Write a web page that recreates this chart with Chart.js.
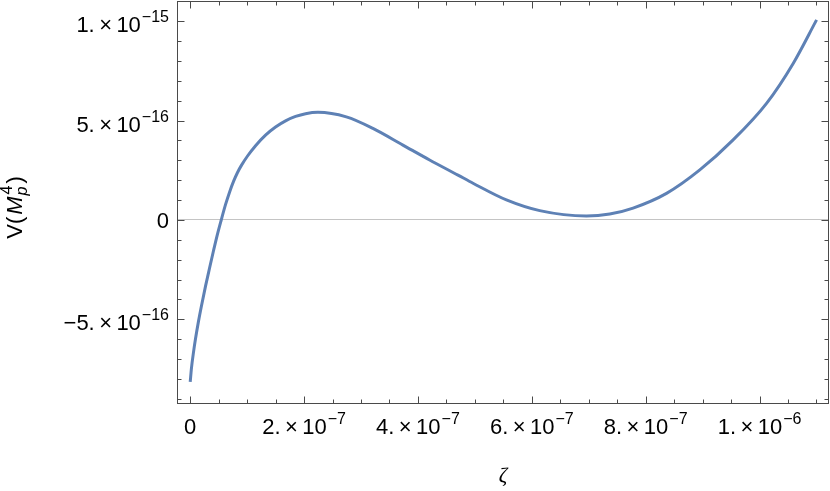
<!DOCTYPE html>
<html>
<head>
<meta charset="utf-8">
<script src="https://cdn.jsdelivr.net/npm/chart.js@4.4.1/dist/chart.umd.min.js"></script>
<style>
  html, body { margin: 0; padding: 0; background: #fff; }
</style>
</head>
<body>
<canvas id="myChart" width="830" height="491"></canvas>
<script>
// values
var zeta = [0, 0.023e-7, 0.058e-7, 0.093e-7, 0.146e-7, 0.199e-7, 0.269e-7, 0.339e-7, 0.409e-7, 0.479e-7,
            0.545e-7, 0.620e-7, 0.691e-7, 0.761e-7, 0.831e-7, 0.902e-7, 1.007e-7, 1.148e-7, 1.323e-7, 1.499e-7,
            1.675e-7, 1.851e-7, 2.026e-7, 2.243e-7, 2.742e-7, 3.209e-7, 3.736e-7, 4.205e-7, 4.703e-7, 4.967e-7,
            5.554e-7, 6.139e-7, 6.960e-7, 7.369e-7, 7.779e-7, 8.366e-7, 8.951e-7, 9.536e-7, 10.123e-7, 10.591e-7,
            11.002e-7];
var potential = [-8.15e-16, -7.43e-16, -6.65e-16, -5.98e-16, -5.09e-16, -4.30e-16, -3.33e-16, -2.43e-16, -1.55e-16, -0.71e-16,
                 0, 0.77e-16, 1.40e-16, 1.94e-16, 2.39e-16, 2.76e-16, 3.22e-16, 3.74e-16, 4.27e-16, 4.68e-16,
                 4.99e-16, 5.21e-16, 5.35e-16, 5.42e-16, 5.19e-16, 4.61e-16, 3.77e-16, 3.02e-16, 2.26e-16, 1.85e-16,
                 1.01e-16, 0.47e-16, 0.20e-16, 0.30e-16, 0.60e-16, 1.34e-16, 2.52e-16, 4.03e-16, 5.87e-16, 7.88e-16,
                 10.07e-16];

var xTicks = [0, 2e-7, 4e-7, 6e-7, 8e-7, 1e-6];
var xTickMant = ['0', '2.', '4.', '6.', '8.', '1.'];
var xTickExp = ['', '\u22127', '\u22127', '\u22127', '\u22127', '\u22126'];
var yTicks = [-5e-16, 0, 5e-16, 1e-15];
var yTickMant = ['\u22125.', '0', '5.', '1.'];
var yTickExp = ['\u221216', '', '\u221216', '\u221215'];

var FONT = '"Liberation Sans", Arial, sans-serif';
var mainFont = '22px ' + FONT;
var supFont = '16px ' + FONT;

function mantText(m) {
    return m === '0' ? '0' : m + '\u2009\u00d7\u200910';
}

function labelWidth(ctx, m, e) {
    ctx.font = mainFont;
    var w = ctx.measureText(mantText(m)).width;
    if (e) {
        ctx.font = supFont;
        w += ctx.measureText(e).width + 1;
    }
    return w;
}

function drawLabel(ctx, m, e, x, base) {
    ctx.textAlign = 'left';
    ctx.textBaseline = 'alphabetic';
    ctx.font = mainFont;
    var t = mantText(m);
    ctx.fillText(t, x, base);
    if (e) {
        var w = ctx.measureText(t).width;
        ctx.font = supFont;
        ctx.fillText(e, x + w + 1, base - 10);
    }
}

var framePlugin = {
    id: 'frame',
    afterDraw: function(chart) {
        var ctx = chart.ctx, a = chart.chartArea;
        var xs = chart.scales.x, ys = chart.scales.y;
        var L = Math.round(a.left) + 0.5, R = Math.round(a.right) - 0.5;
        var T = Math.round(a.top) + 0.5, B = Math.round(a.bottom) + 0.5;
        ctx.save();
        ctx.strokeStyle = '#4a4a4a';
        ctx.lineWidth = 1;
        ctx.strokeRect(L, T, R - L, B - T);

        // inward ticks on all four sides
        ctx.beginPath();
        var v, px, len;
        for (var i = 0; i <= 22; i++) {
            v = i * 5e-8;
            px = Math.round(xs.getPixelForValue(v)) + 0.5;
            len = (i % 4 === 0) ? 7 : 4;
            ctx.moveTo(px, B); ctx.lineTo(px, B - len);
            ctx.moveTo(px, T); ctx.lineTo(px, T + len);
        }
        for (var j = -9; j <= 11; j++) {
            v = j * 1e-16;
            px = Math.round(ys.getPixelForValue(v)) + 0.5;
            len = (j % 5 === 0) ? 7 : 4;
            ctx.moveTo(L, px); ctx.lineTo(L + len, px);
            ctx.moveTo(R, px); ctx.lineTo(R - len, px);
        }
        ctx.stroke();

        ctx.fillStyle = '#000';
        xTicks.forEach(function(val, k) {
            var w = labelWidth(ctx, xTickMant[k], xTickExp[k]);
            var cx = xs.getPixelForValue(val);
            drawLabel(ctx, xTickMant[k], xTickExp[k], cx - w / 2, 434);
        });
        yTicks.forEach(function(val, k) {
            var w = labelWidth(ctx, yTickMant[k], yTickExp[k]);
            var cy = ys.getPixelForValue(val);
            var base = yTickExp[k] ? cy + 11 : cy + 8;
            drawLabel(ctx, yTickMant[k], yTickExp[k], 169 - w, base);
        });

        // axis titles
        ctx.font = 'italic 21px "Liberation Serif", serif';
        ctx.textAlign = 'center';
        ctx.fillText('\u03b6', (a.left + a.right) / 2, 482);

        ctx.translate(21.5, 207.5);
        ctx.rotate(-Math.PI / 2);
        ctx.textAlign = 'left';
        var itMain = 'italic 22px ' + FONT;
        ctx.font = mainFont;
        var w1 = ctx.measureText('V(').width + 2;
        ctx.font = itMain;
        var w2 = ctx.measureText('M').width + 1;
        ctx.font = 'italic 16px ' + FONT;
        var w3 = Math.max(ctx.measureText('p').width, ctx.measureText('4').width) + 3;
        ctx.font = mainFont;
        var w4 = ctx.measureText(')').width;
        var x0 = -(w1 + w2 + w3 + w4) / 2;
        ctx.fillText('V(', x0, 0);
        ctx.font = itMain;
        ctx.fillText('M', x0 + w1, 0);
        ctx.font = 'italic 16px ' + FONT;
        ctx.fillText('p', x0 + w1 + w2, 5);
        ctx.font = supFont;
        ctx.fillText('4', x0 + w1 + w2 + 1, -10);
        ctx.font = mainFont;
        ctx.fillText(')', x0 + w1 + w2 + w3, 0);
        ctx.restore();
    }
};

window.addEventListener('DOMContentLoaded', function() {
    var ctx = document.getElementById('myChart').getContext('2d');
    window.myLine = new Chart(ctx, {
        type: 'line',
        data: {
            datasets: [{
                data: zeta.map(function(z, i) { return { x: z, y: potential[i] }; }),
                borderColor: '#5e81b5',
                borderWidth: 3,
                pointRadius: 0,
                fill: false,
                cubicInterpolationMode: 'monotone'
            }]
        },
        options: {
            responsive: false,
            animation: false,
            devicePixelRatio: 1,
            layout: { padding: { top: 1, right: 1, left: 0, bottom: 0 } },
            plugins: { legend: { display: false }, tooltip: { enabled: false } },
            scales: {
                x: {
                    type: 'linear',
                    min: -2.32e-8,
                    max: 1.122e-6,
                    ticks: { display: false },
                    grid: { display: false },
                    border: { display: false },
                    afterFit: function(s) { s.height = 88; }
                },
                y: {
                    type: 'linear',
                    min: -9.21e-16,
                    max: 1.102e-15,
                    ticks: { display: false },
                    grid: {
                        drawTicks: false,
                        color: function(c) {
                            return (c.tick && c.tick.value === 0) ? '#c4c4c4' : 'rgba(0,0,0,0)';
                        }
                    },
                    border: { display: false },
                    afterBuildTicks: function(s) {
                        s.ticks = yTicks.map(function(v) { return { value: v }; });
                    },
                    afterFit: function(s) { s.width = 177; }
                }
            }
        },
        plugins: [framePlugin]
    });
});
</script>
</body>
</html>
